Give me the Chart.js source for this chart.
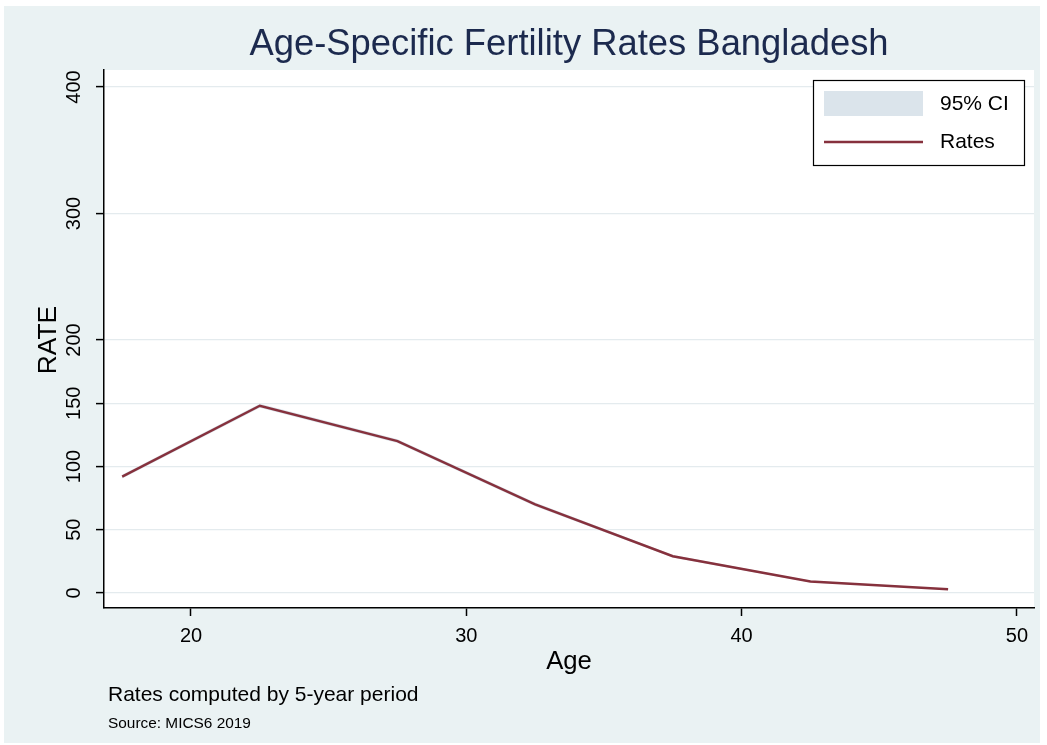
<!DOCTYPE html>
<html>
<head>
<meta charset="utf-8">
<script src="https://cdn.jsdelivr.net/npm/chart.js@4/dist/chart.umd.min.js"></script>
<style>
  html, body { margin: 0; padding: 0; background: #ffffff; }
  #wrap { position: absolute; left: 0; top: 0; width: 1047px; height: 745px; }
</style>
</head>
<body>
<div id="wrap"><canvas id="c" width="1047" height="745"></canvas></div>
<script>
// ---- data ----
const ageMid   = [17.5, 22.5, 27.5, 32.5, 37.5, 42.5, 47.5];
const rates    = [92, 148, 120, 70, 29, 9, 3];
const ciLower  = [90.5, 146.5, 118.5, 68.5, 28, 8.3, 2.5];
const ciUpper  = [93.5, 149.5, 121.5, 71.5, 30, 9.7, 3.5];
const yTicks   = [0, 50, 100, 150, 200, 300, 400];
const xTicks   = [20, 30, 40, 50];
const titleText = 'Age-Specific Fertility Rates Bangladesh';
const xTitle = 'Age';
const yTitle = 'RATE';
const noteText = 'Rates computed by 5-year period';
const captionText = 'Source: MICS6 2019';
const legendLabels = ['95% CI', 'Rates'];

const BG = '#eaf2f3';
const LINE = '#86313d';
const CI = '#dbe4eb';
const GRID = '#e4ebee';
const FONT = '"Liberation Sans", Arial, Helvetica, sans-serif';

const pts = arr => arr.map((v, i) => ({ x: ageMid[i], y: v }));

const bgPlugin = {
  id: 'bg',
  beforeDraw(chart) {
    const ctx = chart.ctx;
    ctx.save();
    ctx.fillStyle = '#ffffff';
    ctx.fillRect(0, 0, chart.width, chart.height);
    ctx.fillStyle = BG;
    ctx.fillRect(4, 6, 1036, 737);
    const a = chart.chartArea;
    ctx.fillStyle = '#ffffff';
    ctx.fillRect(a.left, a.top, a.right - a.left, a.bottom - a.top);
    ctx.restore();
  }
};

const textPlugin = {
  id: 'texts',
  afterDraw(chart) {
    const ctx = chart.ctx;
    const xs = chart.scales.x, ys = chart.scales.y;
    const a = chart.chartArea;
    ctx.save();
    // title
    ctx.fillStyle = '#1c2a4e';
    ctx.font = '36.4px ' + FONT;
    ctx.textAlign = 'center';
    ctx.textBaseline = 'middle';
    ctx.fillText(titleText, (a.left + a.right) / 2, 45);

    ctx.fillStyle = '#000000';
    // y tick labels (rotated)
    ctx.font = '20px ' + FONT;
    yTicks.forEach(v => {
      const y = ys.getPixelForValue(v);
      ctx.save();
      ctx.translate(74, y);
      ctx.rotate(-Math.PI / 2);
      ctx.textAlign = 'center';
      ctx.textBaseline = 'middle';
      ctx.fillText(String(v), 0, 0);
      ctx.restore();
    });
    // y title
    ctx.save();
    ctx.font = '26.4px ' + FONT;
    ctx.translate(49, 340);
    ctx.rotate(-Math.PI / 2);
    ctx.textAlign = 'center';
    ctx.textBaseline = 'middle';
    ctx.fillText(yTitle, 0, 0);
    ctx.restore();
    // x tick labels
    ctx.font = '20px ' + FONT;
    ctx.textAlign = 'center';
    ctx.textBaseline = 'middle';
    xTicks.forEach(v => {
      ctx.fillText(String(v), xs.getPixelForValue(v), 636);
    });
    // x title
    ctx.font = '25.7px ' + FONT;
    ctx.fillText(xTitle, (a.left + a.right) / 2, 662);
    // notes
    ctx.textAlign = 'left';
    ctx.font = '21px ' + FONT;
    ctx.fillText(noteText, 108, 695);
    ctx.font = '15.4px ' + FONT;
    ctx.fillText(captionText, 108, 724);

    // legend
    const lx = 813, ly = 80, lw = 211, lh = 85;
    ctx.fillStyle = '#ffffff';
    ctx.fillRect(lx, ly, lw, lh);
    ctx.strokeStyle = '#000000';
    ctx.lineWidth = 1.2;
    ctx.strokeRect(lx + 0.5, ly + 0.5, lw, lh);
    ctx.fillStyle = CI;
    ctx.fillRect(824, 91, 99, 25);
    ctx.strokeStyle = LINE;
    ctx.lineWidth = 2.5;
    ctx.beginPath();
    ctx.moveTo(824, 142);
    ctx.lineTo(923, 142);
    ctx.stroke();
    ctx.fillStyle = '#000000';
    ctx.font = '21px ' + FONT;
    ctx.textAlign = 'left';
    ctx.textBaseline = 'middle';
    ctx.fillText(legendLabels[0], 940, 104);
    ctx.fillText(legendLabels[1], 940, 142);
    ctx.restore();
  }
};

new Chart(document.getElementById('c'), {
  type: 'line',
  data: {
    datasets: [
      { label: 'lower', order: 2, data: pts(ciLower), borderWidth: 0, pointRadius: 0, fill: false, borderColor: 'rgba(0,0,0,0)', tension: 0 },
      { label: legendLabels[0], order: 1, data: pts(ciUpper), borderWidth: 0, pointRadius: 0, fill: '-1', backgroundColor: CI, borderColor: 'rgba(0,0,0,0)', tension: 0 },
      { label: legendLabels[1], order: 0, data: pts(rates), borderWidth: 2.5, pointRadius: 0, fill: false, borderColor: LINE, tension: 0 }
    ]
  },
  options: {
    responsive: false,
    animation: false,
    devicePixelRatio: 1,
    layout: { padding: { left: 104, right: 13, top: 70, bottom: 137 } },
    plugins: { legend: { display: false }, tooltip: { enabled: false }, title: { display: false } },
    scales: {
      x: {
        type: 'linear',
        min: 16.84,
        max: 50.62,
        afterFit(s) { s.height = 0; },
        afterBuildTicks(s) { s.ticks = xTicks.map(v => ({ value: v })); },
        ticks: { display: false },
        grid: { drawOnChartArea: false, drawTicks: true, tickLength: 8, tickColor: '#000000', tickWidth: 1.5 },
        border: { display: true, color: '#000000', width: 1.5 }
      },
      y: {
        type: 'linear',
        min: -11.9,
        max: 413.4,
        afterFit(s) { s.width = 0; },
        afterBuildTicks(s) { s.ticks = yTicks.map(v => ({ value: v })); },
        ticks: { display: false },
        grid: { drawOnChartArea: true, color: GRID, lineWidth: 1.2, drawTicks: true, tickLength: 8, tickColor: '#000000', tickWidth: 1.5 },
        border: { display: true, color: '#000000', width: 1.5 }
      }
    }
  },
  plugins: [bgPlugin, textPlugin]
});
</script>
</body>
</html>
